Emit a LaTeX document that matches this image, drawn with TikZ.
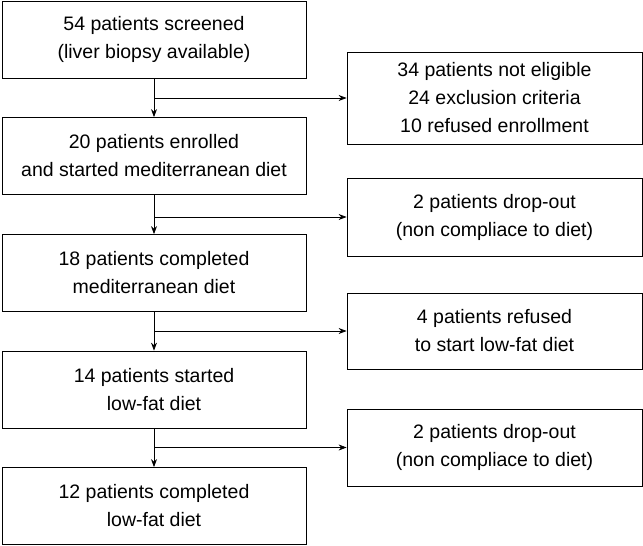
\documentclass[tikz,border=0pt]{standalone}
\usepackage{fontspec}
\setmainfont{Liberation Sans}
\usetikzlibrary{arrows.meta}

\begin{document}
\begin{tikzpicture}[x=1pt, y=-1pt,
    flowbox/.style={draw, line width=0.8pt, align=center, inner sep=0pt,
        font=\fontsize{19.5}{28}\selectfont},
    leftbox/.style={flowbox, minimum width=304pt, minimum height=77pt},
    sidebox/.style={flowbox, minimum width=295pt},
    flow/.style={line width=0.8pt, -{Stealth[length=8pt, width=6pt]}}]

    % fixed frame (same size as the reference)
    \useasboundingbox (0,0) rectangle (643,546);

    % main column of boxes
    \node[leftbox] (screened) at (154,39.5) {54 patients screened\\(liver biopsy available)};
    \node[leftbox] (enrolled) at (154,156) {20 patients enrolled\\and started mediterranean diet};
    \node[leftbox] (meddone) at (154,273) {18 patients completed\\mediterranean diet};
    \node[leftbox] (lowfat) at (154,389.5) {14 patients started\\low-fat diet};
    \node[leftbox] (lowdone) at (154,506) {12 patients completed\\low-fat diet};

    % boxes on the right side
    \node[sidebox, minimum height=92pt] (noteligible) at (494.5,98) {34 patients not eligible\\24 exclusion criteria\\10 refused enrollment};
    \node[sidebox, minimum height=78pt] (dropmed) at (494.5,217) {2 patients drop-out\\(non compliace to diet)};
    \node[sidebox, minimum height=76pt] (refused) at (494.5,331) {4 patients refused\\to start low-fat diet};
    \node[sidebox, minimum height=77pt] (droplow) at (494.5,447.5) {2 patients drop-out\\(non compliace to diet)};

    % arrows down the column
    \draw[flow] (screened) -- (enrolled);
    \draw[flow] (enrolled) -- (meddone);
    \draw[flow] (meddone) -- (lowfat);
    \draw[flow] (lowfat) -- (lowdone);

    % arrows out to the right
    \draw[flow] (screened.south |- noteligible.west) -- (noteligible.west);
    \draw[flow] (enrolled.south |- dropmed.west) -- (dropmed.west);
    \draw[flow] (meddone.south |- refused.west) -- (refused.west);
    \draw[flow] (lowfat.south |- droplow.west) -- (droplow.west);

\end{tikzpicture}
\end{document}
